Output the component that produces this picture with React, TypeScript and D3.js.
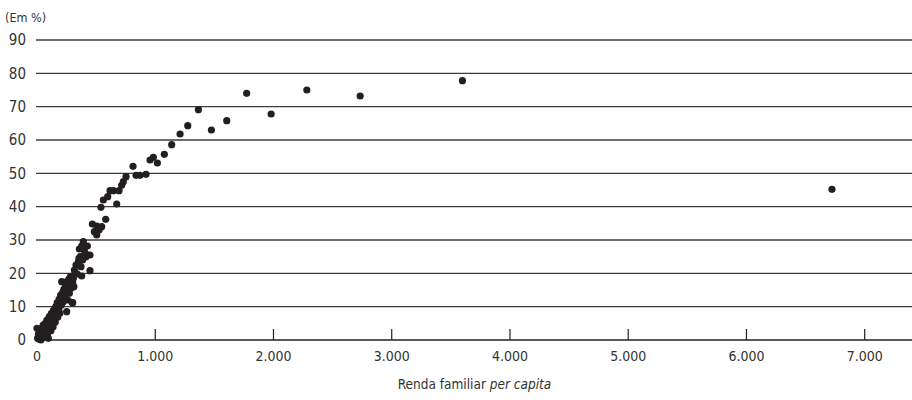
import React from "react";
import * as d3 from "d3";

// renda familiar per capita (R$) e percentual (%) de cada ponto
const renda = [
  0, 5, 12, 18, 22, 28, 33, 38, 42, 47, 52, 57, 62, 66, 71, 75, 80, 84, 88, 92,
  96, 100, 104, 108, 113, 118, 122, 126, 131, 136, 140, 145, 150, 154, 159, 163,
  166, 171, 175, 180, 184, 188, 193, 195, 200, 205, 209, 212, 218, 222, 227, 232,
  237, 240, 245, 251, 251, 251, 256, 260, 265, 270, 274, 278, 283, 288, 293, 296,
  302, 302, 307, 312, 316, 322, 330, 340, 350, 355, 358, 366, 372, 378, 378, 386,
  392, 400, 406, 415, 426, 426, 448, 448, 468, 485, 505, 505, 525, 541, 547, 561,
  581, 598, 618, 646, 674, 694, 716, 730, 753, 812, 838, 871, 922, 956, 984, 1018,
  1077, 1139, 1210, 1275, 1365, 1475, 1605, 1773, 1980, 2282, 2733, 3598, 6723,
];
const percentual = [
  3.5, 0.5, 1.8, 0.2, 2.8, 1, 0, 2.2, 3.6, 0.8, 4.5, 2, 3.2, 1, 5, 2.6, 4, 6, 1.5, 3.4,
  0.5, 5.2, 7, 4.2, 6.3, 2.8, 8, 5.5, 7.2, 4, 9, 6.5, 8.2, 5.3, 10, 7.5,
  9.5, 11.2, 6.8, 11, 9, 12.3, 8, 12, 13.5, 10.4, 17.5, 12.8, 14.3, 11.5, 15.2, 13,
  12.5, 16, 14.2, 17.5, 14.5, 8.5, 16.3, 12, 15.6, 18.3, 14, 16.8, 19, 15.5, 19, 11.3,
  17.2, 11.2, 18.5, 16, 21, 20.2, 22.5, 19.8, 23.5, 24.5, 27.3, 25, 22, 28.2, 19.2, 24,
  29.5, 27, 26, 25, 28.2, 25.5, 20.8, 25.5, 34.8, 32.5, 34.2, 31.5, 33, 39.8, 34, 42,
  36.2, 43, 44.8, 44.8, 40.8, 44.8, 46.4, 47.5, 49, 52.1, 49.4, 49.4, 49.7, 54, 54.8, 53.1,
  55.7, 58.6, 61.8, 64.3, 69.1, 63, 65.8, 74, 67.8, 75, 73.2, 77.8, 45.2,
];

const yTicks = [0, 10, 20, 30, 40, 50, 60, 70, 80, 90];
const xTicks = [0, 1000, 2000, 3000, 4000, 5000, 6000, 7000];

const W = 912;
const H = 400;
const font = "'Liberation Sans Narrow', 'DejaVu Sans Condensed', 'Open Sans', sans-serif";
const ink = "#231f20";

export default function App() {
  const x = d3.scaleLinear().domain([0, 7400]).range([37, 912]);
  const y = d3.scaleLinear().domain([0, 90]).range([340, 40]);
  const fmt = (v: number) => d3.format(",")(v).replace(/,/g, ".");

  const points = renda.map((r, i) => ({ r, p: percentual[i] }));

  return (
    <svg
      width={W}
      height={H}
      style={{ position: "absolute", left: 0, top: 0, background: "#fff" }}
      fontFamily={font}
    >
      <text x={5} y={22} fontSize={12.5} fill="#333">(Em %)</text>

      {/* gridlines + y labels */}
      {yTicks.map((t) => (
        <g key={t}>
          <line
            x1={36}
            x2={W}
            y1={y(t)}
            y2={y(t)}
            stroke={t === 0 ? "#222" : "#3c3c3c"}
            strokeWidth={1.3}
          />
          <text x={26} y={y(t)} dy="0.35em" textAnchor="end" fontSize={15} fill="#333">
            {t}
          </text>
        </g>
      ))}

      {/* x ticks */}
      {xTicks.map((t) => (
        <g key={t}>
          {t > 0 && (
            <line x1={x(t)} x2={x(t)} y1={y(0)} y2={y(0) - 11} stroke="#222" strokeWidth={1.2} />
          )}
          <text x={x(t)} y={361} textAnchor="middle" fontSize={14} fill="#333">
            {fmt(t)}
          </text>
        </g>
      ))}

      <text x={(37 + W) / 2} y={389} textAnchor="middle" fontSize={13.5} fill="#333">
        Renda familiar <tspan fontStyle="italic">per capita</tspan>
      </text>

      {points.map((d, i) => (
        <circle key={i} cx={x(d.r)} cy={y(d.p)} r={3.6} fill={ink} />
      ))}
    </svg>
  );
}
